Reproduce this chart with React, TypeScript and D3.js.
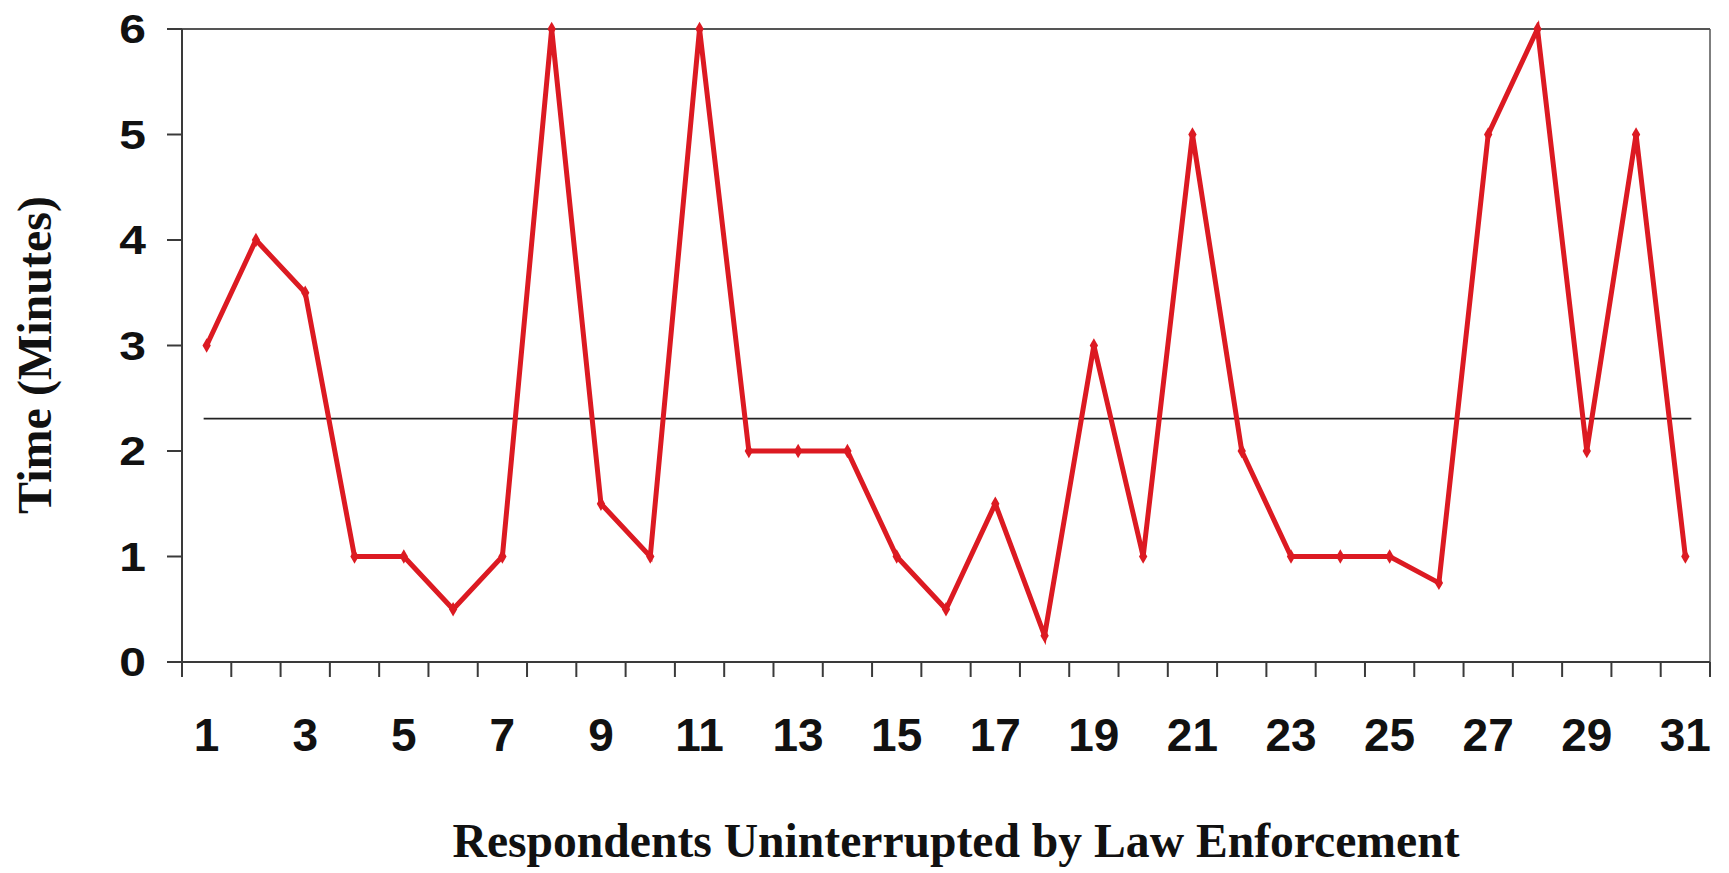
import React from "react";
import * as d3 from "d3";

const respondents: number[] = Array.from({ length: 31 }, (_, i) => i + 1);
const minutes: number[] = [
  3, 4, 3.5, 1, 1, 0.5, 1, 6, 1.5, 1, 6, 2, 2, 2, 1, 0.5, 1.5, 0.25, 3, 1, 5, 2, 1, 1, 1, 0.75, 5, 6, 2, 5, 1,
];
const yTicks: number[] = [0, 1, 2, 3, 4, 5, 6];
const xLabelValues: number[] = respondents.filter((r) => r % 2 === 1);
const yTitle = "Time (Minutes)";
const xTitle = "Respondents Uninterrupted by Law Enforcement";

const W = 1729;
const H = 873;
const left = 182;
const right = 1710;
const top = 29;
const bottom = 662;

export default function App() {
  const x = d3
    .scaleBand<number>()
    .domain(respondents)
    .range([left, right])
    .paddingInner(0)
    .paddingOuter(0);
  const y = d3.scaleLinear().domain([0, 6]).range([bottom, top]);
  const cx = (r: number) => (x(r) as number) + x.bandwidth() / 2;

  const line = d3
    .line<number>()
    .x((_, i) => cx(respondents[i]))
    .y((d) => y(d));

  const meanVal = d3.mean(minutes) as number;
  const diamond = d3.symbol().type(d3.symbolDiamond).size(60)() as string;

  const boundaries = respondents.map((r) => x(r) as number).concat([right]);
  const axisColor = "#3a3a3a";
  const red = "#dc1a22";

  return (
    <svg
      width={W}
      height={H}
      style={{ position: "absolute", left: 0, top: 0, background: "#fff" }}
    >
      {/* plot frame */}
      <line x1={left} x2={right} y1={top} y2={top} stroke="#555" strokeWidth={2} />
      <line x1={right} x2={right} y1={top} y2={bottom} stroke="#555" strokeWidth={1.5} />
      <line x1={left} x2={left} y1={top} y2={bottom + 15} stroke={axisColor} strokeWidth={2} />
      <line x1={left} x2={right} y1={bottom} y2={bottom} stroke={axisColor} strokeWidth={2} />

      {/* y ticks */}
      {yTicks.map((t) => (
        <g key={"yt" + t}>
          <line x1={left - 15} x2={left} y1={y(t)} y2={y(t)} stroke={axisColor} strokeWidth={2} />
          <text
            transform={`translate(146,${y(t)}) scale(1.2,1)`}
            textAnchor="end"
            dominantBaseline="central"
            fontFamily="'Liberation Sans', Arial, sans-serif"
            fontWeight="bold"
            fontSize={40}
            fill="#111"
          >
            {t}
          </text>
        </g>
      ))}

      {/* x ticks at band boundaries */}
      {boundaries.map((bx, i) => (
        <line key={"xt" + i} x1={bx} x2={bx} y1={bottom} y2={bottom + 15} stroke={axisColor} strokeWidth={2} />
      ))}
      {xLabelValues.map((r) => (
        <text
          key={"xl" + r}
          x={cx(r)}
          y={751}
          textAnchor="middle"
          fontFamily="'Liberation Sans', Arial, sans-serif"
          fontWeight="bold"
          fontSize={46}
          fill="#111"
        >
          {r}
        </text>
      ))}

      {/* mean line */}
      <line
        x1={cx(respondents[0]) - 3}
        x2={cx(respondents[respondents.length - 1]) + 6}
        y1={y(meanVal)}
        y2={y(meanVal)}
        stroke="#222"
        strokeWidth={1.6}
      />

      {/* data line */}
      <path d={line(minutes) as string} fill="none" stroke={red} strokeWidth={5} strokeLinejoin="miter" />
      {minutes.map((v, i) => (
        <path key={"m" + i} d={diamond} transform={`translate(${cx(respondents[i])},${y(v)})`} fill={red} />
      ))}

      {/* axis titles */}
      <text
        transform={`translate(51,355) rotate(-90)`}
        textAnchor="middle"
        fontFamily="'Liberation Serif', 'Times New Roman', serif"
        fontWeight="bold"
        fontSize={48}
        fill="#111"
      >
        {yTitle}
      </text>
      <text
        x={956}
        y={857}
        textAnchor="middle"
        fontFamily="'Liberation Serif', 'Times New Roman', serif"
        fontWeight="bold"
        fontSize={48}
        textLength={1007}
        lengthAdjust="spacingAndGlyphs"
        fill="#111"
      >
        {xTitle}
      </text>
    </svg>
  );
}
